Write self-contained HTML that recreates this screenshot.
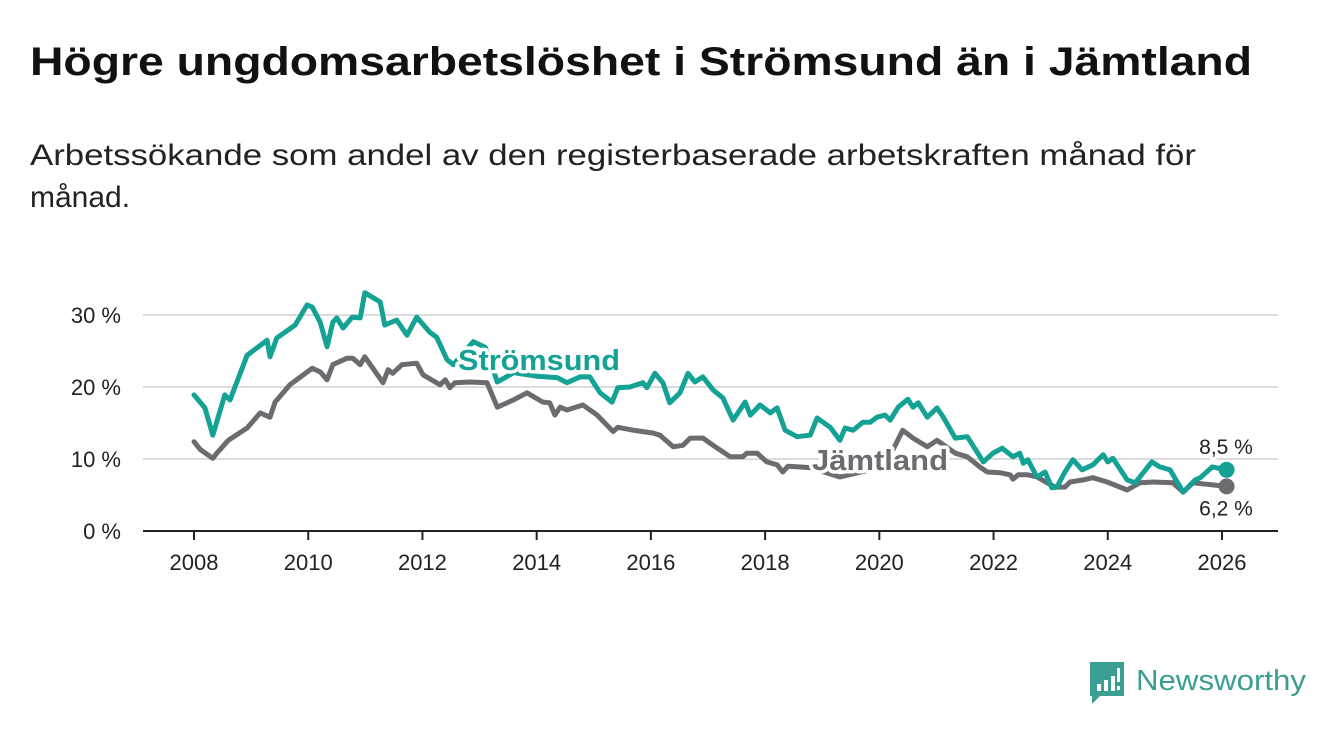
<!DOCTYPE html>
<html><head><meta charset="utf-8">
<style>
body{margin:0;background:#fff;}
svg{display:block;font-family:"Liberation Sans",sans-serif;}
</style></head>
<body>
<svg id="c" width="1340" height="734" viewBox="0 0 1340 734">
<text x="30" y="75" font-size="40" font-weight="bold" fill="#111" textLength="1222" lengthAdjust="spacingAndGlyphs">Högre ungdomsarbetslöshet i Strömsund än i Jämtland</text>
<text x="30" y="165" font-size="30" fill="#222" textLength="1166" lengthAdjust="spacingAndGlyphs">Arbetssökande som andel av den registerbaserade arbetskraften månad för</text>
<text x="30" y="207" font-size="30" fill="#222">månad.</text>
<g id="grid"></g><g id="xaxis"></g><g id="series"></g><g id="labels"></g>
<g>
<path d="M1090 662 h34 v34 h-24 l-8 8 v-8 h-2 z" fill="#3a9e92"/>
<rect x="1097" y="684" width="4" height="7" fill="#fff"/><rect x="1104" y="680" width="4" height="11" fill="#fff"/><rect x="1111" y="676" width="4" height="15" fill="#fff"/><rect x="1117" y="668" width="3" height="14" fill="#fff"/><rect x="1117" y="686" width="3" height="4" fill="#fff"/>
<text x="1136" y="690" font-size="29" fill="#3a9e92" textLength="170" lengthAdjust="spacingAndGlyphs">Newsworthy</text>
</g>
</svg>
<script>
const yTicks=[0,10,20,30];
const xTicks=[2008,2010,2012,2014,2016,2018,2020,2022,2024,2026];
const stromYears=[2008.0,2008.19,2008.33,2008.54,2008.63,2008.93,2009.28,2009.33,2009.45,2009.77,2009.98,2010.07,2010.21,2010.33,2010.43,2010.5,2010.61,2010.77,2010.91,2010.99,2011.26,2011.34,2011.55,2011.73,2011.9,2012.13,2012.25,2012.43,2012.54,2012.89,2013.1,2013.31,2013.6,2014.0,2014.36,2014.53,2014.76,2014.93,2015.11,2015.32,2015.42,2015.63,2015.86,2015.93,2016.07,2016.21,2016.33,2016.51,2016.65,2016.77,2016.91,2017.09,2017.26,2017.44,2017.65,2017.74,2017.91,2018.09,2018.21,2018.35,2018.56,2018.79,2018.91,2019.14,2019.31,2019.4,2019.54,2019.71,2019.84,2019.96,2020.1,2020.19,2020.33,2020.5,2020.59,2020.68,2020.84,2021.01,2021.12,2021.33,2021.54,2021.82,2021.99,2022.15,2022.34,2022.46,2022.52,2022.6,2022.76,2022.9,2023.02,2023.11,2023.25,2023.39,2023.55,2023.74,2023.92,2024.0,2024.09,2024.34,2024.48,2024.77,2024.91,2025.09,2025.32,2025.53,2025.62,2025.83,2026.08];
const stromValues=[18.9,17.1,13.3,18.9,18.2,24.4,26.5,24.2,26.8,28.6,31.4,31.1,29.0,25.6,29.0,29.6,28.2,29.7,29.6,33.1,31.8,28.6,29.3,27.2,29.7,27.6,26.9,23.8,23.1,26.3,25.5,20.7,22.0,21.5,21.3,20.6,21.4,21.4,19.2,17.9,19.9,20.0,20.6,19.9,21.9,20.6,17.8,19.2,21.9,20.7,21.4,19.6,18.5,15.4,17.9,16.1,17.5,16.4,17.1,14.0,13.1,13.3,15.7,14.4,12.6,14.3,14.0,15.1,15.1,15.8,16.1,15.4,17.2,18.3,17.2,17.8,15.8,17.1,15.8,12.9,13.1,9.6,10.8,11.5,10.3,10.8,9.4,9.9,7.5,8.2,6.0,6.1,8.2,9.9,8.5,9.2,10.6,9.6,10.1,7.1,6.7,9.6,8.9,8.5,5.4,7.1,7.4,8.9,8.5];
const jamtYears=[2008.0,2008.11,2008.33,2008.4,2008.6,2008.93,2009.16,2009.33,2009.42,2009.68,2010.07,2010.21,2010.33,2010.43,2010.68,2010.78,2010.91,2010.99,2011.31,2011.4,2011.48,2011.64,2011.9,2012.01,2012.31,2012.4,2012.48,2012.57,2012.83,2013.13,2013.31,2013.59,2013.83,2014.11,2014.23,2014.32,2014.41,2014.53,2014.81,2015.06,2015.34,2015.42,2015.69,2016.04,2016.16,2016.39,2016.56,2016.69,2016.91,2017.09,2017.26,2017.39,2017.61,2017.68,2017.86,2018.03,2018.21,2018.31,2018.4,2018.79,2019.31,2019.84,2020.24,2020.41,2020.59,2020.84,2021.01,2021.33,2021.54,2021.76,2021.89,2022.11,2022.29,2022.34,2022.43,2022.6,2022.76,2022.94,2023.08,2023.25,2023.34,2023.57,2023.74,2023.99,2024.34,2024.56,2024.79,2025.14,2025.32,2025.49,2026.08];
const jamtValues=[12.4,11.3,10.1,10.8,12.6,14.3,16.4,15.8,17.9,20.3,22.6,22.1,21.0,23.1,24.0,24.0,23.1,24.2,20.6,22.4,21.9,23.1,23.3,21.7,20.3,21.0,19.9,20.6,20.7,20.6,17.2,18.2,19.2,17.9,17.8,16.1,17.2,16.8,17.5,16.1,13.8,14.4,14.0,13.6,13.3,11.7,11.9,12.9,12.9,11.9,11.0,10.3,10.3,10.8,10.8,9.6,9.2,8.2,9.0,8.8,7.5,8.5,11.3,14.0,12.9,11.7,12.6,10.8,10.3,8.9,8.2,8.1,7.8,7.2,7.8,7.8,7.5,6.7,6.1,6.1,6.8,7.1,7.4,6.8,5.7,6.7,6.8,6.7,5.4,6.7,6.2];
const NS='http://www.w3.org/2000/svg';
const X=y=>194+(y-2008)*(1028/18);
const Y=v=>531-v*7.2;
function mk(t,a,p){const e=document.createElementNS(NS,t);for(const k in a)e.setAttribute(k,a[k]);p.appendChild(e);return e;}
const grid=document.getElementById('grid');
yTicks.forEach(t=>{
 if(t>0){const l=mk('line',{x1:143,x2:1278,y1:Y(t),y2:Y(t),stroke:'#dcdcdc','stroke-width':2},grid);
 
 }
 const tx=mk('text',{x:121,y:Y(t)+8,'font-size':22,fill:'#222','text-anchor':'end'},grid);tx.textContent=t+' %';
 
 
});
const xa=document.getElementById('xaxis');
const base=mk('line',{x1:143,x2:1278,y1:531,y2:531,stroke:'#222','stroke-width':2},xa);


xTicks.forEach(t=>{
 mk('line',{x1:X(t),x2:X(t),y1:531,y2:540,stroke:'#222','stroke-width':2},xa);
 const tx=mk('text',{x:X(t),y:570,'font-size':22,fill:'#222','text-anchor':'middle'},xa);tx.textContent=t;
 
 
});
const sg=document.getElementById('series');
function line(xs,vs,col,name){
 const d=xs.map((x,i)=>(i?'L':'M')+X(x).toFixed(1)+' '+Y(vs[i]).toFixed(1)).join(' ');
 const p=mk('path',{d:d,fill:'none',stroke:col,'stroke-width':5,'stroke-linejoin':'round','stroke-linecap':'round'},sg);
 
 
 const n=xs.length-1;
 const c=mk('circle',{cx:X(xs[n]),cy:Y(vs[n]),r:8,fill:col},sg);
 
 
}
line(jamtYears,jamtValues,'#6d6a70','jamtland');
line(stromYears,stromValues,'#13a294','stromsund');
const lg=document.getElementById('labels');
function lab(x,y,txt,col,name,fs,fw,anchor,len){
 const a={x:x,y:y,'font-size':fs,'font-weight':fw,fill:col,stroke:'#fff','stroke-width':7,'paint-order':'stroke','stroke-linejoin':'round','text-anchor':anchor};
 if(len){a.textLength=len;a.lengthAdjust='spacingAndGlyphs';}
 const t=mk('text',a,lg);
 t.textContent=txt;
 
 
}
lab(458,370,'Strömsund','#13a294','stromsund-label',29,'bold','start',162);
lab(812,470,'Jämtland','#6d6a70','jamtland-label',29,'bold','start',136);
const ls=stromValues.length-1, lj=jamtValues.length-1;
lab(1226,Y(stromValues[ls])-16,stromValues[ls].toFixed(1).replace('.',',')+' %','#222','stromsund-end-value',21,'normal','middle');
lab(1226,Y(jamtValues[lj])+29,jamtValues[lj].toFixed(1).replace('.',',')+' %','#222','jamtland-end-value',21,'normal','middle');
</script>
</body></html>
